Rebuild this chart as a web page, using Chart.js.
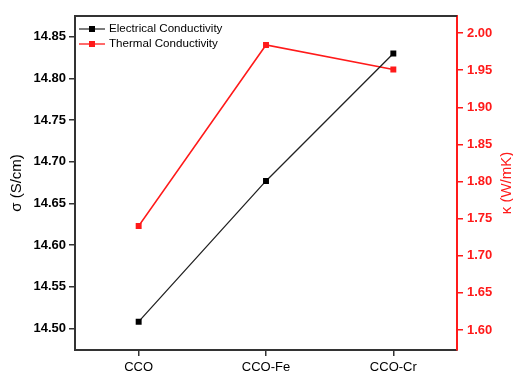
<!DOCTYPE html>
<html>
<head>
<meta charset="utf-8">
<script src="https://cdn.jsdelivr.net/npm/chart.js@4/dist/chart.umd.min.js"></script>
<style>
  html, body { margin: 0; padding: 0; background: #fff; }
  #wrap { width: 513px; height: 374px; }
</style>
</head>
<body>
<div id="wrap"><canvas id="cond" width="513" height="374"></canvas></div>
<script>
const samples = ["CCO", "CCO-Fe", "CCO-Cr"];
const sigmaValues = [14.508, 14.677, 14.830];
const kappaValues = [1.740, 1.984, 1.951];
const sigmaTicks = [14.50, 14.55, 14.60, 14.65, 14.70, 14.75, 14.80, 14.85];
const kappaTicks = [1.60, 1.65, 1.70, 1.75, 1.80, 1.85, 1.90, 1.95, 2.00];

const RED = "#ff1a1a";

// top frame line, axis titles and the small legend in the corner
const extras = {
  id: "extras",
  afterDraw(chart) {
    const { ctx, chartArea: a } = chart;
    ctx.save();
    ctx.strokeStyle = "#333";
    ctx.lineWidth = 2;
    ctx.beginPath();
    ctx.moveTo(a.left - 1, a.top);
    ctx.lineTo(a.right, a.top);
    ctx.stroke();

    const midY = (a.top + a.bottom) / 2;
    ctx.font = "15px 'Liberation Sans', Arial, sans-serif";
    ctx.textAlign = "center";
    ctx.textBaseline = "middle";
    ctx.fillStyle = "#000";
    ctx.translate(17, midY);
    ctx.rotate(-Math.PI / 2);
    ctx.fillText("σ (S/cm)", 0, 0);
    ctx.setTransform(1, 0, 0, 1, 0, 0);
    ctx.fillStyle = RED;
    ctx.translate(507, midY);
    ctx.rotate(-Math.PI / 2);
    ctx.fillText("κ (W/mK)", 0, 0);
    ctx.setTransform(1, 0, 0, 1, 0, 0);

    const items = [
      { label: "Electrical Conductivity", color: "#333", mark: "#000", y: 29 },
      { label: "Thermal Conductivity", color: RED, mark: RED, y: 44 },
    ];
    ctx.font = "11.6px 'Liberation Sans', Arial, sans-serif";
    ctx.textAlign = "left";
    items.forEach((it) => {
      ctx.strokeStyle = it.color;
      ctx.lineWidth = 1.3;
      ctx.beginPath();
      ctx.moveTo(79, it.y);
      ctx.lineTo(105, it.y);
      ctx.stroke();
      ctx.fillStyle = it.mark;
      ctx.fillRect(89, it.y - 3, 6, 6);
      ctx.fillStyle = "#000";
      ctx.fillText(it.label, 109, it.y);
    });
    ctx.restore();
  },
};

new Chart(document.getElementById("cond"), {
  type: "line",
  data: {
    labels: samples,
    datasets: [
      {
        label: "Electrical Conductivity",
        data: sigmaValues,
        yAxisID: "y",
        borderColor: "#222",
        backgroundColor: "#000",
        borderWidth: 1.3,
        pointStyle: "rect",
        pointRadius: 4.2,
        pointBorderWidth: 0,
        tension: 0,
      },
      {
        label: "Thermal Conductivity",
        data: kappaValues,
        yAxisID: "y1",
        borderColor: RED,
        backgroundColor: RED,
        borderWidth: 1.5,
        pointStyle: "rect",
        pointRadius: 4.2,
        pointBorderWidth: 0,
        tension: 0,
      },
    ],
  },
  options: {
    responsive: false,
    animation: false,
    layout: { padding: { top: 16, left: 0, right: 0, bottom: 0 } },
    plugins: { legend: { display: false }, tooltip: { enabled: false } },
    scales: {
      x: {
        offset: true,
        grid: { drawOnChartArea: false, tickLength: 6, color: "#333", lineWidth: 1.5 },
        border: { color: "#333", width: 2 },
        ticks: { color: "#000", padding: 4, font: { family: "'Liberation Sans', Arial", size: 13 } },
        afterFit(s) { s.height = 24; },
      },
      y: {
        position: "left",
        min: 14.474,
        max: 14.875,
        afterBuildTicks(s) { s.ticks = sigmaTicks.map((v) => ({ value: v })); },
        grid: { drawOnChartArea: false, tickLength: 6, color: "#333", lineWidth: 1.5 },
        border: { color: "#333", width: 2 },
        ticks: {
          color: "#000",
          padding: 3,
          font: { family: "'Liberation Sans', Arial", size: 13, weight: "bold" },
          callback: (v) => Number(v).toFixed(2),
        },
        afterFit(s) { s.width = 75; },
      },
      y1: {
        position: "right",
        min: 1.573,
        max: 2.023,
        afterBuildTicks(s) { s.ticks = kappaTicks.map((v) => ({ value: v })); },
        grid: { drawOnChartArea: false, tickLength: 6, color: RED, lineWidth: 1.5 },
        border: { color: RED, width: 2 },
        ticks: {
          color: RED,
          padding: 4,
          font: { family: "'Liberation Sans', Arial", size: 13, weight: "bold" },
          callback: (v) => Number(v).toFixed(2),
        },
        afterFit(s) { s.width = 56; },
      },
    },
  },
  plugins: [extras],
});
</script>
</body>
</html>
